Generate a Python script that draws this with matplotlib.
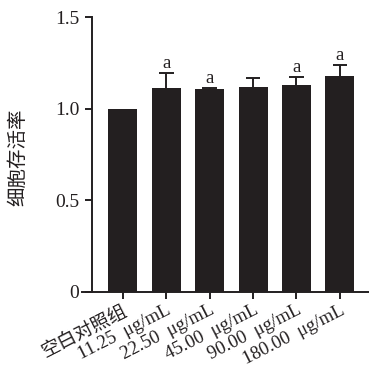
import matplotlib
matplotlib.use("Agg")
import matplotlib.pyplot as plt

categories = ["空白对照组", "11.25  μg/mL", "22.50  μg/mL", "45.00  μg/mL", "90.00  μg/mL", "180.00  μg/mL"]
values = [1.0, 1.114, 1.105, 1.117, 1.129, 1.178]
errors = [0.0, 0.083, 0.010, 0.053, 0.046, 0.060]
sig = ["", "a", "a", "", "a", "a"]

plt.rcParams['font.family'] = ['Liberation Serif', 'Noto Sans CJK SC']

fig = plt.figure(figsize=(3.69, 3.67), dpi=100)
ax = fig.add_axes([92/369, 75/367, 1 - 92/369, 275/367])
x = list(range(len(categories)))
color = '#231f20'
ax.bar(x, values, width=0.67, color=color, zorder=2)
cap = 0.17
for xi, v, e in zip(x, values, errors):
    if e > 0:
        ax.vlines(xi, v, v + e, color=color, linewidth=1.4, zorder=3)
        ax.hlines(v + e, xi - cap, xi + cap, color=color, linewidth=1.4, zorder=3)
for xi, v, e, s in zip(x, values, errors, sig):
    if s:
        ax.text(xi, v + e + 0.005, s, ha='center', va='bottom', fontsize=13.5, color=color)

ax.set_xlim(-0.71, 5.67)
ax.set_ylim(0, 1.5)
ax.set_yticks([0, 0.5, 1.0, 1.5])
ax.set_yticklabels(['0', '0.5', '1.0', '1.5'], fontsize=14)
ax.set_xticks(x)
for sp in ['top', 'right']:
    ax.spines[sp].set_visible(False)
for sp in ['left', 'bottom']:
    ax.spines[sp].set_linewidth(1.4)
    ax.spines[sp].set_color(color)
ax.spines['bottom'].set_bounds(-0.95, 5.67)
ax.tick_params(axis='both', direction='out', length=5, width=1.4, color=color, labelcolor=color)
ax.tick_params(axis='y', pad=4)
ax.tick_params(axis='x', pad=2)
ax.set_xticklabels(categories, fontsize=13.5)
for lab in ax.get_xticklabels():
    lab.set_rotation(27)
    lab.set_ha('right')
    lab.set_rotation_mode('anchor')
ax.set_ylabel('细胞存活率', fontsize=14, color=color, family=['Noto Sans CJK SC'])
ax.yaxis.label.set_va('center')
ax.yaxis.set_label_coords((18 - 92) / 277, (292 - 157) / 275)
fig.savefig('out.png', dpi=100)
